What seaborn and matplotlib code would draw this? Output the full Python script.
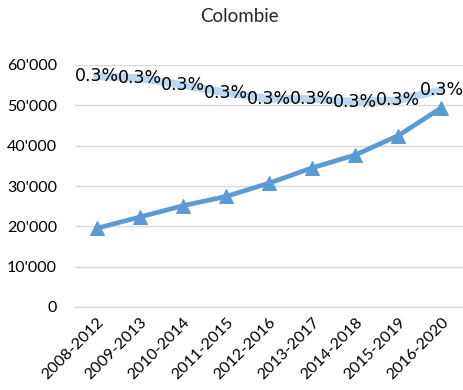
import matplotlib
matplotlib.use("Agg")
import matplotlib.pyplot as plt
import seaborn as sns
import pandas as pd
from matplotlib.ticker import FuncFormatter, FixedLocator

periods = ["2008-2012", "2009-2013", "2010-2014", "2011-2015", "2012-2016",
           "2013-2017", "2014-2018", "2015-2019", "2016-2020"]
values = [19500, 22300, 25100, 27400, 30700, 34500, 37700, 42500, 49400]
shares = [0.00334, 0.00331, 0.00321, 0.00310, 0.00301, 0.00301, 0.00297, 0.00299, 0.00314]
title = "Colombie"

sns.set_style("white")
plt.rcParams['font.family'] = ['Lato', 'DejaVu Sans']

df = pd.DataFrame({"period": periods, "value": values, "share": shares})

fig = plt.figure(figsize=(4.64, 3.90), dpi=100)
ax = fig.add_axes([75/464, 1 - 307/390, 388/464, 242/390])
ax2 = ax.twinx()

main_col = "#5B9BD5"
light_col = "#BDD7EE"

sns.lineplot(data=df, x="period", y="value", ax=ax, color=main_col, linewidth=3.4,
             marker="^", markersize=10, markeredgecolor=main_col, sort=False, zorder=3)
sns.lineplot(data=df, x="period", y="share", ax=ax2, color=light_col, linewidth=5.5,
             sort=False, zorder=1)

ax.set_ylim(0, 60000)
ax2.set_ylim(0, 0.0035)
ax.set_xlim(-0.5, len(periods) - 0.5)
ax.set_xlabel("")
ax.set_ylabel("")
ax2.set_ylabel("")
ax2.set_yticks([])
for s in ax2.spines.values():
    s.set_visible(False)

ax.set_yticks(range(0, 60001, 10000))
ax.yaxis.set_major_formatter(FuncFormatter(lambda v, p: "0" if v == 0 else f"{int(v):,}".replace(",", "'")))
ax.grid(axis="y", color="#D9D9D9", linewidth=1)
ax.set_axisbelow(True)
for side in ["left", "right", "top"]:
    ax.spines[side].set_visible(False)
ax.spines["bottom"].set_color("#D9D9D9")
ax.spines["bottom"].set_linewidth(1)

ax.set_xticks(range(len(periods)))
ax.set_xticklabels(periods, rotation=45, ha="right", rotation_mode="anchor", fontsize=11.5, color="#000000")
ax.xaxis.set_minor_locator(FixedLocator([i - 0.5 for i in range(len(periods) + 1)]))
ax.tick_params(axis="x", which="major", length=0, pad=6)
ax.tick_params(axis="x", which="minor", length=5, color="#D9D9D9", width=1)
ax.tick_params(axis="y", length=0, labelsize=11.5, pad=13, colors="#000000")

for i, s in enumerate(shares):
    ax2.text(i, s, f"{s*100:.1f}%", ha="center", va="center", fontsize=12.5,
             family="DejaVu Sans", color="#000000", zorder=5)

fig.text(239/464, 1 - 16/390, title, ha="center", va="center", fontsize=13.5)

fig.savefig("out.png", dpi=100)
